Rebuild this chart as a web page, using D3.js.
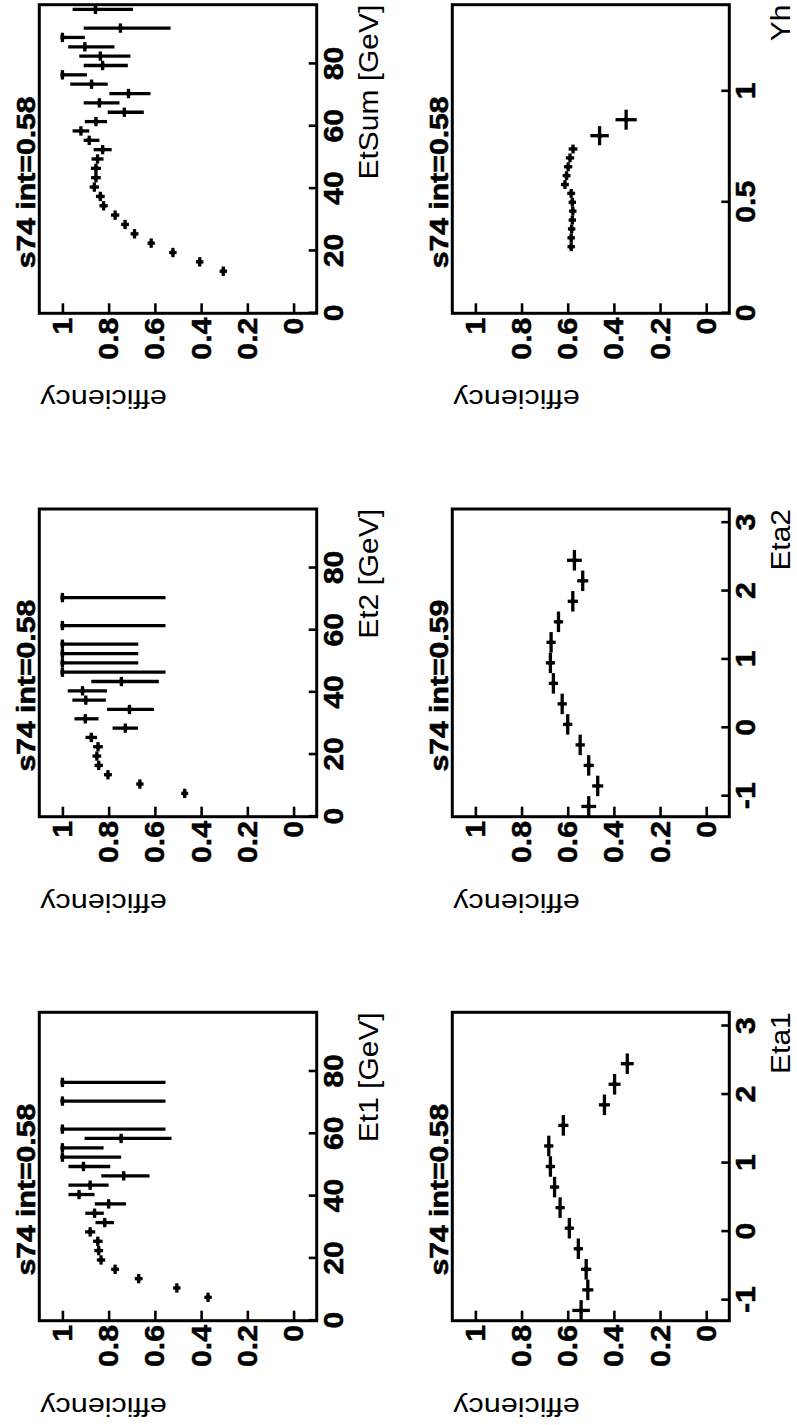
<!DOCTYPE html>
<html>
<head>
<meta charset="utf-8">
<script src="https://cdn.jsdelivr.net/npm/d3@7"></script>
<style>
  html, body { margin: 0; padding: 0; background: #fff; }
  svg { display: block; }
</style>
</head>
<body>
<div id="chart"></div>
<script>
// ---- data ----
const effTicks = [0, 0.2, 0.4, 0.6, 0.8, 1];
const etTicks = [0, 20, 40, 60, 80];
const etaTicks = [-1, 0, 1, 2, 3];
const yhTicks = [0, 0.5, 1];

// Et1
const et1Center = [7.5, 10.5, 13.5, 16.5, 19.5, 22.5, 25.5, 28.5, 31.5, 34.5, 37.5, 40.5, 43.5, 46.5, 49.5, 52.5, 55.5, 58.5, 61.5, 70.5, 76.5];
const et1Eff    = [0.37, 0.505, 0.67, 0.772, 0.833, 0.843, 0.847, 0.88, 0.817, 0.861, 0.80, 0.928, 0.88, 0.735, 0.909, 1, 1, 0.746, 1, 1, 1];
const et1Lo     = [0.016, 0.016, 0.017, 0.017, 0.018, 0.019, 0.021, 0.022, 0.04, 0.04, 0.075, 0.067, 0.08, 0.112, 0.116, 0.254, 0.178, 0.218, 0.446, 0.446, 0.446];
const et1Hi     = [0.016, 0.016, 0.017, 0.017, 0.018, 0.019, 0.021, 0.022, 0.04, 0.04, 0.06, 0.046, 0.094, 0.097, 0.065, 0, 0, 0.158, 0, 0, 0];

// Et2
const et2Center = [7.5, 10.5, 13.5, 16.5, 19.5, 22.5, 25.5, 28.5, 31.5, 34.5, 37.5, 40.5, 43.5, 46.5, 49.5, 52.5, 55.5, 61.5, 70.5];
const et2Eff    = [0.471, 0.665, 0.803, 0.843, 0.851, 0.846, 0.875, 0.728, 0.901, 0.71, 0.899, 0.913, 0.745, 1, 1, 1, 1, 1, 1];
const et2Lo     = [0.015, 0.016, 0.017, 0.018, 0.019, 0.021, 0.025, 0.055, 0.057, 0.106, 0.087, 0.106, 0.162, 0.446, 0.328, 0.328, 0.328, 0.446, 0.446];
const et2Hi     = [0.015, 0.016, 0.017, 0.018, 0.019, 0.021, 0.025, 0.055, 0.047, 0.097, 0.058, 0.064, 0.13, 0, 0, 0, 0, 0, 0];

// EtSum
const etSumCenter = [13.5, 16.5, 19.5, 22.5, 25.5, 28.5, 31.5, 34.5, 37.5, 40.5, 43.5, 46.5, 49.5, 52.5, 55.5, 58.5, 61.5, 64.5, 67.5, 70.5, 73.5, 76.5, 79.5, 82.5, 85.5, 88.5, 91.5, 97.5];
const etSumEff    = [0.304, 0.406, 0.522, 0.616, 0.688, 0.729, 0.772, 0.822, 0.836, 0.862, 0.855, 0.855, 0.848, 0.826, 0.884, 0.92, 0.855, 0.732, 0.84, 0.714, 0.874, 1, 0.826, 0.836, 0.903, 1, 0.749, 0.857];
const etSumLo     = [0.016, 0.016, 0.016, 0.016, 0.017, 0.017, 0.018, 0.018, 0.019, 0.02, 0.021, 0.022, 0.026, 0.039, 0.044, 0.036, 0.048, 0.084, 0.087, 0.095, 0.07, 0.106, 0.109, 0.13, 0.128, 0.097, 0.217, 0.162];
const etSumHi     = [0.016, 0.016, 0.016, 0.016, 0.017, 0.017, 0.018, 0.018, 0.019, 0.02, 0.021, 0.022, 0.026, 0.039, 0.024, 0.036, 0.048, 0.072, 0.068, 0.083, 0.092, 0, 0.082, 0.091, 0.072, 0, 0.159, 0.099];

// Eta1 / Eta2
const etaCenter = [-1.15, -0.85, -0.55, -0.25, 0.05, 0.35, 0.65, 0.95, 1.25, 1.55, 1.85, 2.15, 2.45];
const eta1Eff   = [0.542, 0.513, 0.52, 0.554, 0.593, 0.633, 0.657, 0.675, 0.682, 0.619, 0.441, 0.397, 0.342];
const eta1Err   = [0.038, 0.024, 0.022, 0.02, 0.02, 0.02, 0.02, 0.02, 0.02, 0.022, 0.024, 0.026, 0.028];
const eta2Eff   = [0.509, 0.47, 0.509, 0.546, 0.60, 0.624, 0.662, 0.675, 0.672, 0.64, 0.578, 0.535, 0.571];
const eta2Err   = [0.032, 0.024, 0.022, 0.02, 0.02, 0.02, 0.02, 0.02, 0.02, 0.02, 0.022, 0.024, 0.032];

// Yh
const yhCenter = [0.30, 0.34, 0.38, 0.42, 0.46, 0.50, 0.54, 0.58, 0.62, 0.66, 0.70, 0.74, 0.80, 0.872];
const yhHalf   = [0.02, 0.02, 0.02, 0.02, 0.02, 0.02, 0.02, 0.02, 0.02, 0.02, 0.02, 0.02, 0.043, 0.045];
const yhEff    = [0.585, 0.585, 0.583, 0.58, 0.578, 0.58, 0.585, 0.612, 0.605, 0.598, 0.59, 0.577, 0.462, 0.347];
const yhErr    = [0.016, 0.016, 0.016, 0.016, 0.016, 0.016, 0.017, 0.017, 0.017, 0.018, 0.018, 0.019, 0.04, 0.046];

const panels = [
  { col: 0, row: 0, title: 's74 int=0.58', xTitle: 'Et1 [GeV]', xDomain: [0, 99], ticks: etTicks,
    c: et1Center, eff: et1Eff, lo: et1Lo, hi: et1Hi, half: et1Center.map(() => 1.5) },
  { col: 1, row: 0, title: 's74 int=0.58', xTitle: 'Et2 [GeV]', xDomain: [0, 99], ticks: etTicks,
    c: et2Center, eff: et2Eff, lo: et2Lo, hi: et2Hi, half: et2Center.map(() => 1.5) },
  { col: 2, row: 0, title: 's74 int=0.58', xTitle: 'EtSum [GeV]', xDomain: [0, 99], ticks: etTicks,
    c: etSumCenter, eff: etSumEff, lo: etSumLo, hi: etSumHi, half: etSumCenter.map(() => 1.5) },
  { col: 0, row: 1, title: 's74 int=0.58', xTitle: 'Eta1', xDomain: [-1.3, 3.2], ticks: etaTicks,
    c: etaCenter, eff: eta1Eff, lo: eta1Err, hi: eta1Err, half: etaCenter.map(() => 0.15) },
  { col: 1, row: 1, title: 's74 int=0.59', xTitle: 'Eta2', xDomain: [-1.3, 3.2], ticks: etaTicks,
    c: etaCenter, eff: eta2Eff, lo: eta2Err, hi: eta2Err, half: etaCenter.map(() => 0.15) },
  { col: 2, row: 1, title: 's74 int=0.58', xTitle: 'Yh', xDomain: [0, 1.39], ticks: yhTicks,
    c: yhCenter, eff: yhEff, lo: yhErr, hi: yhErr, half: yhHalf }
];

// ---- layout: landscape canvas, turned a quarter turn ----
const W = 797, H = 1425;
const colX = [[104.3, 412.7], [608.3, 916], [1111.7, 1420.3]];
const rowY = [[39.3, 316.7], [452.3, 729.3]];
const FONT = "'Liberation Sans', Arial, Helvetica, sans-serif";

const svg = d3.select('#chart').append('svg')
  .attr('width', W).attr('height', H);

const canvas = svg.append('g')
  .attr('transform', `translate(0,${H}) rotate(-90)`);

function label(parent, x, y, str, opt) {
  const g = parent.append('g')
    .attr('transform', `translate(${x},${y}) rotate(${opt.rotate || 0}) scale(${opt.sx || 1},1)`);
  const t = g.append('text')
    .attr('text-anchor', opt.anchor || 'start')
    .attr('font-family', FONT)
    .attr('font-size', opt.size)
    .attr('font-weight', opt.weight || 'normal')
    .attr('fill', '#000')
    .text(str);
  if (opt.heavy) t.attr('stroke', '#000').attr('stroke-width', opt.heavy);
}

panels.forEach(p => {
  const [x0, x1] = colX[p.col];
  const [y0, y1] = rowY[p.row];

  const x = d3.scaleLinear().domain(p.xDomain).range([x0, x1]);
  const y = d3.scaleLinear().domain([-0.1, 1.1]).range([y1, y0]);

  const g = canvas.append('g');

  // axes, ticks inside the frame
  const yAxis = g.append('g')
    .attr('transform', `translate(${x0},0)`)
    .call(d3.axisLeft(y).tickValues(effTicks).tickFormat(d => String(d))
      .tickSizeInner(-10).tickSizeOuter(0).tickPadding(4));
  const xAxis = g.append('g')
    .attr('transform', `translate(0,${y1})`)
    .call(d3.axisBottom(x).tickValues(p.ticks).tickFormat(d => String(d))
      .tickSizeInner(-8).tickSizeOuter(0).tickPadding(6));

  [yAxis, xAxis].forEach(a => {
    a.select('.domain').remove();
    a.selectAll('.tick line').attr('stroke', '#000').attr('stroke-width', 2.6);
    a.selectAll('.tick text')
      .attr('font-family', FONT)
      .attr('font-size', 28)
      .attr('font-weight', 'bold')
      .attr('fill', '#000')
      .attr('stroke', '#000').attr('stroke-width', 0.5)
      .attr('transform', 'scale(1.08,1)');
  });

  // frame
  g.append('rect')
    .attr('x', x0).attr('y', y0)
    .attr('width', x1 - x0).attr('height', y1 - y0)
    .attr('fill', 'none').attr('stroke', '#000').attr('stroke-width', 3);

  const pts = p.c.map((c, i) => ({ c, e: p.eff[i], lo: p.lo[i], hi: p.hi[i], h: p.half[i] }));

  // bin width bars
  g.selectAll('line.binbar').data(pts).join('line')
    .attr('class', 'binbar')
    .attr('x1', d => x(d.c - d.h)).attr('x2', d => x(d.c + d.h))
    .attr('y1', d => y(d.e)).attr('y2', d => y(d.e))
    .attr('stroke', '#000').attr('stroke-width', 3.3);

  // efficiency error bars
  g.selectAll('line.errbar').data(pts).join('line')
    .attr('class', 'errbar')
    .attr('x1', d => x(d.c)).attr('x2', d => x(d.c))
    .attr('y1', d => y(d.e - d.lo)).attr('y2', d => y(d.e + d.hi))
    .attr('stroke', '#000').attr('stroke-width', 3.3);

  // markers
  g.selectAll('rect.marker').data(pts).join('rect')
    .attr('class', 'marker')
    .attr('x', d => x(d.c) - 2).attr('y', d => y(d.e) - 2)
    .attr('width', 4).attr('height', 4)
    .attr('fill', '#000');

  // texts
  label(g, x0 + 131, y0 - 4, p.title, { size: 26, weight: 'bold', anchor: 'middle', sx: 1.16, heavy: 0.6 });
  label(g, x1, y1 + 61, p.xTitle, { size: 28, anchor: 'end', sx: 1.07 });
  label(g, x0 - 77, y0 + 1, 'efficiency', { size: 25, anchor: 'end', rotate: -90, sx: 1.22 });
});
</script>
</body>
</html>
